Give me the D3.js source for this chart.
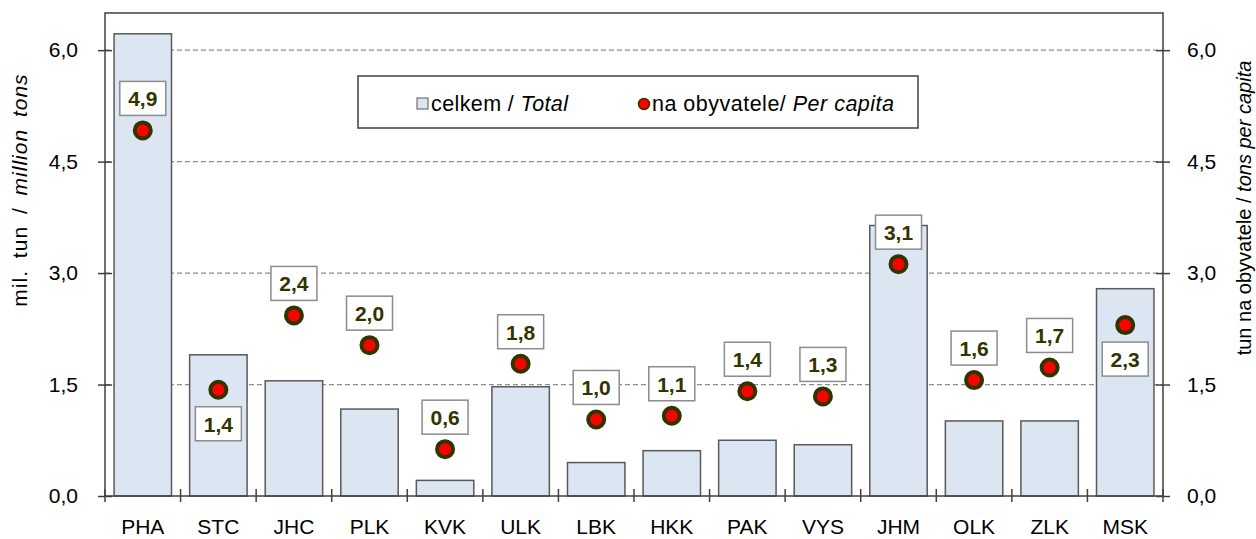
<!DOCTYPE html>
<meta charset="utf-8">
<style>
body { margin: 0; background: #fff; }
svg { font-family: Arial, "Liberation Sans", sans-serif; }
.grid line { stroke: #8c8c8c; stroke-dasharray: 5,3; stroke-width: 1.2; }
.bar { fill: #dce6f2; stroke: #595959; stroke-width: 1.5; }
.dot { fill: #ff0000; stroke: #333300; stroke-width: 4; }
.lbl rect { fill: #fff; stroke: #8c8c8c; stroke-width: 1.5; }
.lbl text { fill: #333300; font-weight: bold; font-size: 21px; }
.tick text { font-size: 21px; fill: #000; }
</style>
<svg width="1256" height="539"></svg>
<script src="https://cdn.jsdelivr.net/npm/d3@7"></script>
<script>

// regions (kraje)
var regions = ["PHA", "STC", "JHC", "PLK", "KVK", "ULK", "LBK", "HKK", "PAK", "VYS", "JHM", "OLK", "ZLK", "MSK"];
// total, million tons
var total = [6.22, 1.90, 1.55, 1.17, 0.21, 1.47, 0.45, 0.61, 0.75, 0.69, 3.64, 1.01, 1.01, 2.79];
// tons per capita
var perCapita = [4.92, 1.43, 2.43, 2.03, 0.63, 1.78, 1.03, 1.08, 1.41, 1.34, 3.12, 1.56, 1.73, 2.30];
// which labels sit under the dot
var labelBelow = ["STC", "MSK"];
var yTicks = [0, 1.5, 3.0, 4.5, 6.0];

var svg = d3.select("svg");
// plot box (note: "top" is taken by window.top)
var pL = 105, pR = 1163, pT = 13, pB = 496;

var x = d3.scaleBand().domain(regions).range([pL, pR]).paddingInner(0.24).paddingOuter(0.12);
var y = d3.scaleLinear().domain([0, 6.5]).range([pB, pT]);
var y2 = d3.scaleLinear().domain([0, 6.5]).range([pB, pT]);
var fmt = function(v) { return d3.format(".1f")(v).replace(".", ","); };

// dashed grid
svg.append("g").attr("class", "grid")
  .selectAll("line").data(yTicks.filter(function(d) { return d > 0; }))
  .enter().append("line")
    .attr("x1", pL).attr("x2", pR)
    .attr("y1", function(d) { return y(d); })
    .attr("y2", function(d) { return y(d); });

// bars
svg.append("g").selectAll("rect").data(regions)
  .enter().append("rect")
    .attr("class", "bar")
    .attr("x", function(d) { return x(d); })
    .attr("width", x.bandwidth())
    .attr("y", function(d, i) { return y(total[i]); })
    .attr("height", function(d, i) { return pB - y(total[i]); });

// frame
svg.append("rect")
  .attr("x", pL).attr("y", pT).attr("width", pR - pL).attr("height", pB - pT)
  .attr("fill", "none").attr("stroke", "#404040").attr("stroke-width", 1.5);

// left axis
var axL = svg.append("g").attr("transform", "translate(" + pL + ",0)")
  .call(d3.axisLeft(y).tickValues(yTicks).tickFormat(fmt).tickSize(7).tickPadding(20));
axL.selectAll(".tick line").attr("x2", 7).attr("x1", -7);
// right axis
var axR = svg.append("g").attr("transform", "translate(" + pR + ",0)")
  .call(d3.axisRight(y2).tickValues(yTicks).tickFormat(fmt).tickSize(7).tickPadding(17));
axR.selectAll(".tick line").attr("x1", -7).attr("x2", 7);
[axL, axR].forEach(function(a) {
  a.select(".domain").remove();
  a.selectAll(".tick line").attr("stroke", "#404040").attr("stroke-width", 1.5);
});

// bottom axis: ticks at category boundaries
var bx = svg.append("g").attr("transform", "translate(0," + pB + ")");
bx.selectAll("line").data(d3.range(regions.length + 1))
  .enter().append("line")
    .attr("x1", function(i) { return pL + i * (pR - pL) / regions.length; })
    .attr("x2", function(i) { return pL + i * (pR - pL) / regions.length; })
    .attr("y1", -7).attr("y2", 6)
    .attr("stroke", "#404040").attr("stroke-width", 1.5);
bx.selectAll("text").data(regions)
  .enter().append("text")
    .attr("x", function(d) { return x(d) + x.bandwidth() / 2; })
    .attr("y", 38)
    .attr("text-anchor", "middle")
    .attr("font-size", 21)
    .text(function(d) { return d; });

// data labels
var lbl = svg.append("g").selectAll("g").data(regions)
  .enter().append("g").attr("class", "lbl")
    .attr("transform", function(d, i) {
      var cx = x(d) + x.bandwidth() / 2;
      var cy = y2(perCapita[i]);
      var by = labelBelow.indexOf(d) >= 0 ? cy + 17 : cy - 49;
      return "translate(" + (cx - 23) + "," + by + ")";
    });
lbl.append("rect").attr("width", 46).attr("height", 34);
lbl.append("text").attr("x", 23).attr("y", 25).attr("text-anchor", "middle")
  .text(function(d, i) { return fmt(perCapita[i]); });

// dots
svg.append("g").selectAll("circle").data(regions)
  .enter().append("circle")
    .attr("class", "dot")
    .attr("r", 8)
    .attr("cx", function(d) { return x(d) + x.bandwidth() / 2; })
    .attr("cy", function(d, i) { return y2(perCapita[i]); });

// legend
var lg = svg.append("g");
lg.append("rect").attr("x", 358).attr("y", 76).attr("width", 560).attr("height", 52)
  .attr("fill", "#fff").attr("stroke", "#404040").attr("stroke-width", 1.5);
lg.append("rect").attr("x", 417).attr("y", 98).attr("width", 11).attr("height", 11)
  .attr("fill", "#dce6f2").attr("stroke", "#595959").attr("stroke-width", 1);
var t1 = lg.append("text").attr("x", 431).attr("y", 111).attr("font-size", 21.5)
  .attr("textLength", 137).attr("lengthAdjust", "spacing");
t1.append("tspan").text("celkem / ");
t1.append("tspan").attr("font-style", "italic").text("Total");
lg.append("circle").attr("cx", 644).attr("cy", 104).attr("r", 5.5)
  .attr("fill", "#ff0000").attr("stroke", "#333300").attr("stroke-width", 1.5);
var t2 = lg.append("text").attr("x", 652).attr("y", 111).attr("font-size", 21.5)
  .attr("textLength", 242).attr("lengthAdjust", "spacing");
t2.append("tspan").text("na obyvatele/ ");
t2.append("tspan").attr("font-style", "italic").text("Per capita");

// axis titles
var at1 = svg.append("text").attr("transform", "translate(27,190) rotate(-90)")
  .attr("text-anchor", "middle").attr("font-size", 21)
  .style("letter-spacing", "1px").style("word-spacing", "5px");
at1.append("tspan").text("mil. tun / ");
at1.append("tspan").attr("font-style", "italic").text("million  tons");

var at2 = svg.append("text").attr("transform", "translate(1251,208) rotate(-90)")
  .attr("text-anchor", "middle").attr("font-size", 20);
at2.append("tspan").text("tun na obyvatele / ");
at2.append("tspan").attr("font-style", "italic").text("tons  per capita");

</script>
